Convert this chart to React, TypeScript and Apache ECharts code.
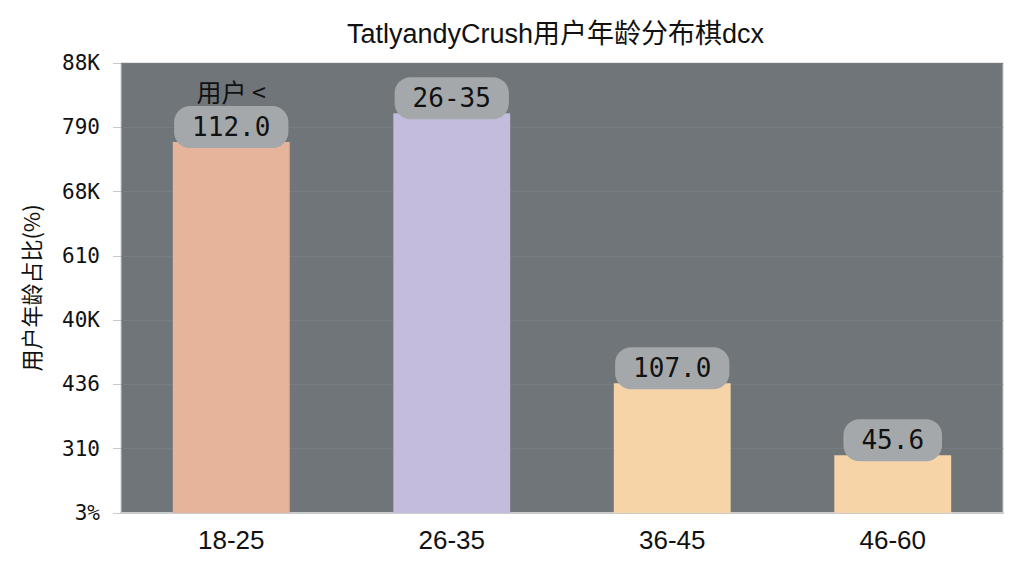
import React, { useEffect, useRef } from 'react';
import * as echarts from 'echarts';

// Data (bar heights in y-axis steps)
const categories = ['18-25', '26-35', '36-45', '46-60'];
const barValues = [5.77, 6.22, 2.02, 0.9];
const barLabels = ['112.0', '26-35', '107.0', '45.6'];
const barColors = ['#e6b49b', '#c3bcdc', '#f6d4a8', '#f6d4a8'];
const yTickLabels = ['3%', '310', '436', '40K', '610', '68K', '790', '88K'];

const App: React.FC = () => {
  const chartRef = useRef<HTMLDivElement>(null);

  useEffect(() => {
    document.body.style.margin = '0';
    if (!chartRef.current) return;
    const chart = echarts.init(chartRef.current, undefined, { renderer: 'svg' });

    chart.setOption({
      animation: false,
      backgroundColor: '#ffffff',
      title: {
        text: 'TatlyandyCrush用户年龄分布棋dcx',
        left: 342,
        top: 15,
        textStyle: {
          fontFamily: 'Liberation Sans, Noto Sans CJK SC, sans-serif',
          fontSize: 27,
          fontWeight: 'normal',
          color: '#111111',
        },
      },
      grid: {
        left: 121,
        right: 21,
        top: 63,
        bottom: 63,
        show: true,
        backgroundColor: '#6f7579',
        borderColor: '#c9cbcd',
        borderWidth: 1,
      },
      xAxis: {
        type: 'category',
        data: categories,
        axisLine: { lineStyle: { color: '#c9cbcd', width: 2 } },
        axisTick: { alignWithLabel: true, length: 8, lineStyle: { color: '#c9cbcd' } },
        axisLabel: {
          margin: 14,
          fontSize: 26,
          color: '#111111',
          fontFamily: 'Liberation Sans, sans-serif',
        },
      },
      yAxis: {
        type: 'value',
        min: 0,
        max: 7,
        interval: 1,
        name: '用户年龄占比(%)',
        nameLocation: 'middle',
        nameGap: 80,
        nameTextStyle: {
          fontSize: 22,
          color: '#111111',
          fontFamily: 'Noto Sans CJK SC, sans-serif',
        },
        axisLine: { show: false },
        axisTick: { show: true, length: 8, lineStyle: { color: '#c9cbcd' } },
        axisLabel: {
          margin: 21,
          fontSize: 21,
          color: '#111111',
          fontFamily: 'DejaVu Sans Mono, monospace',
          formatter: (v: number) => yTickLabels[Math.round(v)] ?? '',
        },
        splitLine: { lineStyle: { color: '#767c80', width: 1 } },
      },
      series: [
        {
          type: 'bar',
          barWidth: '53%',
          data: barValues.map((v, i) => ({
            value: v,
            itemStyle: { color: barColors[i] },
          })),
          label: {
            show: true,
            position: 'top',
            distance: -6,
            formatter: (p: any) =>
              p.dataIndex === 0
                ? '{t|用户 <}\n{b|' + barLabels[0] + '}'
                : '{b|' + barLabels[p.dataIndex] + '}',
            rich: {
              t: {
                fontSize: 25,
                color: '#111111',
                fontFamily: 'Noto Sans CJK SC, sans-serif',
                padding: [0, 0, 3, 0],
                align: 'center',
              },
              b: {
                fontSize: 26,
                color: '#111111',
                fontFamily: 'DejaVu Sans Mono, monospace',
                backgroundColor: '#a4a8ab',
                borderRadius: 16,
                padding: [8, 18, 8, 18],
                align: 'center',
              },
            },
          },
        },
      ],
    });

    return () => chart.dispose();
  }, []);

  return <div ref={chartRef} style={{ width: 1024, height: 576 }} />;
};

export default App;
